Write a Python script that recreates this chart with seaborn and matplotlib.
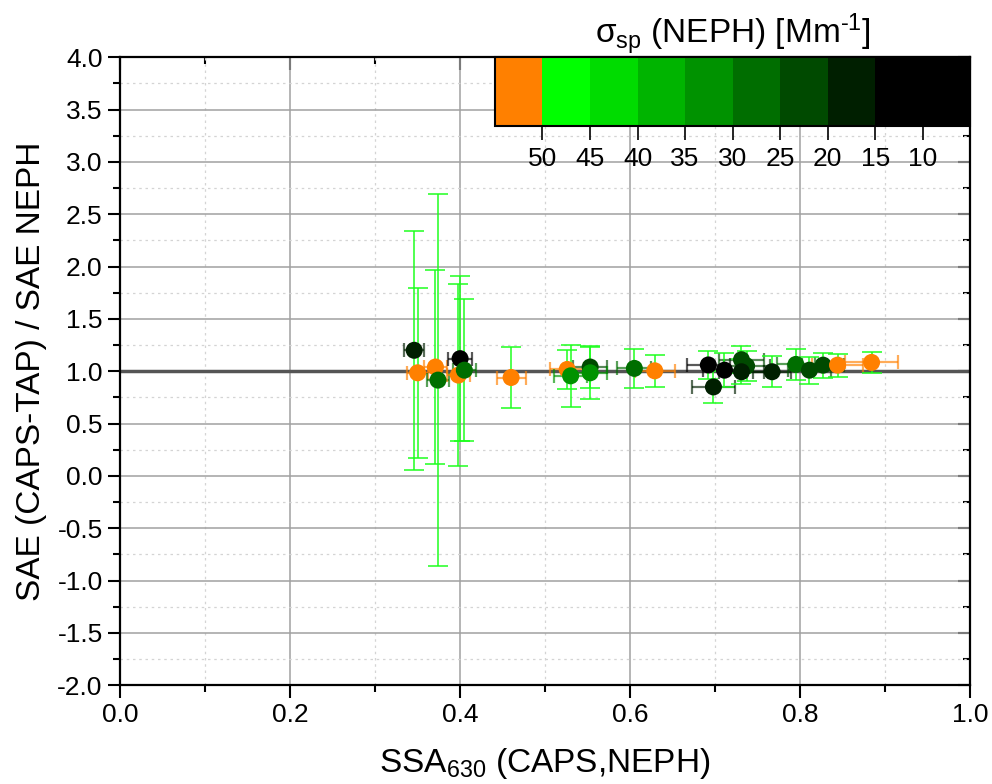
import numpy as np
import pandas as pd
import matplotlib
matplotlib.use('Agg')
import matplotlib.pyplot as plt
import matplotlib.colors as mcolors
import matplotlib.ticker as mticker
import seaborn as sns

# --- data ---
ssa = [0.346, 0.350, 0.371, 0.374, 0.398, 0.400, 0.405, 0.460, 0.526, 0.530,
       0.553, 0.553, 0.605, 0.629, 0.692, 0.698, 0.711, 0.731, 0.737, 0.731,
       0.767, 0.795, 0.811, 0.827, 0.844, 0.884]
sae_ratio = [1.20, 0.985, 1.04, 0.915, 0.963, 1.12, 1.01, 0.94, 1.017, 0.956,
             1.04, 0.985, 1.027, 1.004, 1.06, 0.85, 1.01, 1.11, 1.05, 0.995,
             0.995, 1.065, 1.01, 1.058, 1.058, 1.084]
ssa_err = [0.012, 0.0125, 0.0137, 0.0135, 0.0137, 0.0137, 0.0137, 0.017, 0.020, 0.019,
           0.0196, 0.0196, 0.020, 0.0235, 0.025, 0.025, 0.025, 0.027, 0.027, 0.027,
           0.022, 0.022, 0.025, 0.025, 0.030, 0.031]
sae_err = [1.14, 0.81, 0.93, 1.78, 0.87, 0.79, 0.68, 0.29, 0.19, 0.295,
           0.20, 0.25, 0.19, 0.15, 0.135, 0.15, 0.16, 0.13, 0.14, 0.12,
           0.15, 0.145, 0.13, 0.12, 0.11, 0.10]
sigma_sp = [17, 53, 52, 27, 53, 12, 27, 52, 53, 31,
            22, 31, 27, 53, 10, 17, 12, 22, 22, 18,
            17, 27, 22, 22, 53, 53]

cbar_bounds = [5, 15, 20, 25, 30, 35, 40, 45, 50, 55]
cbar_colors = ['#000000', '#001f00', '#004a00', '#006e00', '#009200',
               '#00b400', '#00dc00', '#00ff00', '#ff8000']
cbar_ticks = [10, 15, 20, 25, 30, 35, 40, 45, 50]

df = pd.DataFrame({'ssa': ssa, 'ratio': sae_ratio, 'ssa_err': ssa_err,
                   'sae_err': sae_err, 'sigma': sigma_sp})

cmap = mcolors.ListedColormap(cbar_colors)
norm = mcolors.BoundaryNorm(cbar_bounds, cmap.N)

sns.set_theme(style='white')
plt.rcParams['font.family'] = ['Liberation Sans', 'DejaVu Sans']
plt.rcParams['mathtext.fontset'] = 'custom'
plt.rcParams['mathtext.rm'] = 'Liberation Sans'
plt.rcParams['mathtext.it'] = 'Liberation Sans:italic'
for k in ['text.color', 'axes.labelcolor', 'xtick.color', 'ytick.color']:
    plt.rcParams[k] = 'black'

fig = plt.figure(figsize=(9.92, 7.84), dpi=100)
ax = fig.add_axes([0.121, 0.126, 0.857, 0.801])

# grid
ax.xaxis.set_major_locator(mticker.MultipleLocator(0.2))
ax.xaxis.set_minor_locator(mticker.MultipleLocator(0.1))
ax.yaxis.set_major_locator(mticker.MultipleLocator(0.5))
ax.yaxis.set_minor_locator(mticker.MultipleLocator(0.25))
ax.grid(True, which='major', color='#a0a0a0', lw=1.1, zorder=0)
ax.grid(True, which='minor', color='#d4d4d4', lw=0.9, ls=(0, (2, 3)), zorder=0)
ax.set_axisbelow(True)

ax.axhline(1.0, color='#555555', lw=2.5, zorder=1.5)

# error bars
for _, r in df.iterrows():
    c = cmap(norm(r['sigma']))
    ax.errorbar(r['ssa'], r['ratio'], xerr=r['ssa_err'], fmt='none', ecolor=c,
                alpha=0.65, elinewidth=1.6, capsize=5, capthick=1.6, zorder=2)
    ax.errorbar(r['ssa'], r['ratio'], yerr=r['sae_err'], fmt='none', ecolor='#1aff1a',
                alpha=0.9, elinewidth=1.2, capsize=7, capthick=1.2, zorder=2.5)

sns.scatterplot(data=df, x='ssa', y='ratio', hue='sigma', palette=cmap, hue_norm=norm,
                s=150, edgecolor='none', linewidth=0, legend=False, ax=ax, zorder=4)

ax.set_xlim(0, 1.0)
ax.set_ylim(-2.0, 4.0)
ax.xaxis.set_major_formatter(mticker.FormatStrFormatter('%.1f'))
ax.yaxis.set_major_formatter(mticker.FormatStrFormatter('%.1f'))

for s in ax.spines.values():
    s.set_color('black')
    s.set_linewidth(1.6)
ax.tick_params(which='both', direction='out', top=False, right=False,
               bottom=True, left=True, width=1.5, color='black', labelsize=19)
ax.tick_params(which='major', length=9)
ax.tick_params(which='minor', length=5)

secx = ax.secondary_xaxis('top')
secx.xaxis.set_major_locator(mticker.MultipleLocator(0.2))
secx.xaxis.set_minor_locator(mticker.MultipleLocator(0.1))
secx.tick_params(which='both', direction='in', labeltop=False, width=1.5)
secx.tick_params(which='major', length=9)
secx.tick_params(which='minor', length=5)
secy = ax.secondary_yaxis('right')
secy.yaxis.set_major_locator(mticker.MultipleLocator(0.5))
secy.yaxis.set_minor_locator(mticker.MultipleLocator(0.25))
secy.tick_params(which='both', direction='in', labelright=False, width=1.5)
secy.tick_params(which='major', length=9)
secy.tick_params(which='minor', length=5)

ax.set_xlabel(r'SSA$_{630}$ (CAPS,NEPH)', fontsize=24, labelpad=14)
ax.set_ylabel('SAE (CAPS-TAP) / SAE NEPH', fontsize=24)
ax.yaxis.set_label_coords(-0.086, 0.5)

# colour bar inset
cax = ax.inset_axes([0.441, 0.89, 0.559, 0.11])
sm = matplotlib.cm.ScalarMappable(norm=norm, cmap=cmap)
cb = fig.colorbar(sm, cax=cax, orientation='horizontal', ticks=cbar_ticks,
                  spacing='proportional')
cax.invert_xaxis()
cax.minorticks_off()
cb.outline.set_linewidth(1.5)
cb.outline.set_edgecolor('black')
cax.tick_params(axis='x', direction='out', length=10, width=1.2, labelsize=19, pad=5)
cax.set_title('σ$_{\\mathrm{sp}}$ (NEPH) [Mm$^{\\mathrm{\u2010}1}$]', fontsize=24, pad=5)

fig.savefig('out.png', dpi=100, facecolor='white')
